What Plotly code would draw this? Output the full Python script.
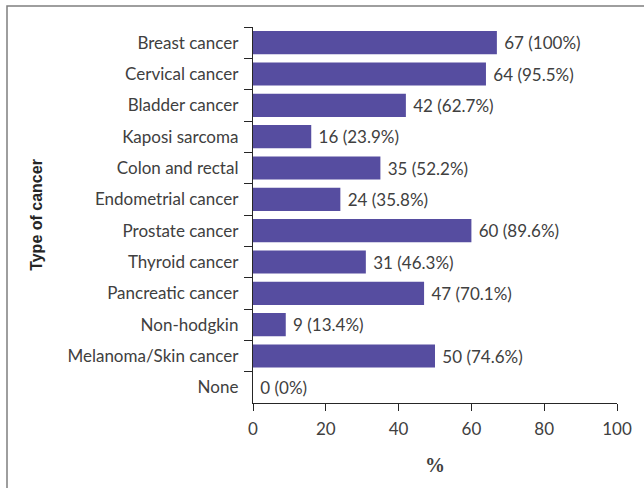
import plotly.graph_objects as go

# Cancer types, top to bottom
categories = [
    "Breast cancer", "Cervical cancer", "Bladder cancer", "Kaposi sarcoma",
    "Colon and rectal", "Endometrial cancer", "Prostate cancer", "Thyroid cancer",
    "Pancreatic cancer", "Non-hodgkin", "Melanoma/Skin cancer", "None",
]
counts = [67, 64, 42, 16, 35, 24, 60, 31, 47, 9, 50, 0]
percents = ["100%", "95.5%", "62.7%", "23.9%", "52.2%", "35.8%",
            "89.6%", "46.3%", "70.1%", "13.4%", "74.6%", "0%"]
x_ticks = [0, 20, 40, 60, 80, 100]

labels = [f" {c} ({p})" for c, p in zip(counts, percents)]

FONT = "Lato, 'Open Sans', sans-serif"
INK = "#404040"

fig = go.Figure(
    go.Bar(
        y=categories,
        x=counts,
        orientation="h",
        marker=dict(color="#564DA0", line=dict(width=0)),
        text=labels,
        textposition="outside",
        textfont=dict(family=FONT, size=17, color=INK),
        cliponaxis=False,
        width=0.74,
    )
)

fig.update_layout(
    width=644,
    height=488,
    margin=dict(l=253, r=27, t=27, b=85),
    paper_bgcolor="white",
    plot_bgcolor="white",
    showlegend=False,
    font=dict(family=FONT, size=17, color=INK),
    xaxis=dict(
        range=[0, 100],
        tickvals=x_ticks,
        showgrid=False,
        zeroline=False,
        showline=True,
        linecolor="#262626",
        linewidth=1.3,
        ticks="outside",
        ticklen=7,
        tickcolor="#262626",
        ticklabelstandoff=3,
        tickfont=dict(family=FONT, size=17, color=INK),
        title=dict(text="<b>%</b>", font=dict(family="Liberation Serif, Times New Roman, serif", size=20, color=INK), standoff=20),
    ),
    yaxis=dict(
        autorange="reversed",
        showgrid=False,
        zeroline=False,
        showline=True,
        linecolor="#262626",
        linewidth=1.3,
        ticks="outside",
        tickson="boundaries",
        ticklen=8,
        tickcolor="#262626",
        ticklabelstandoff=10,
        tickfont=dict(family=FONT, size=17, color=INK),
        title=dict(text="<b>Type of cancer</b>", font=dict(family="Liberation Sans, Arial, sans-serif", size=16, color="#262626"), standoff=20),
    ),
    shapes=[
        dict(type="rect", xref="paper", yref="paper",
             x0=-246 / 364, x1=1.2, y0=-0.3, y1=1 + 21 / 376,
             line=dict(color="#7f7f7f", width=1.5), fillcolor="rgba(0,0,0,0)", layer="below"),
    ],
)

fig.write_html("out.html")
